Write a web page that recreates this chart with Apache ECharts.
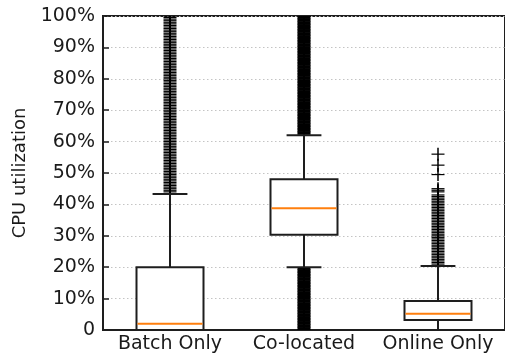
<!DOCTYPE html>
<html><head><meta charset="utf-8">
<script src="https://cdn.jsdelivr.net/npm/echarts@6/dist/echarts.min.js"></script>
<style>html,body{margin:0;padding:0;background:#fff}#c{width:505px;height:357px}</style>
</head><body><div id="c"></div>
<script>
var categories = ['Batch Only', 'Co-located', 'Online Only'];
var yTickLabels = ['0', '10%', '20%', '30%', '40%', '50%', '60%', '70%', '80%', '90%', '100%'];
// [lower whisker, Q1, median, Q3, upper whisker] in %
var batchBox = [0, 0, 2, 20, 43.3];
var colocBox = [20, 30.3, 38.8, 48, 62];
var onlineBox = [0, 3.2, 5.2, 9.2, 20.4];
// outliers (%)
var batchOutliers = [44,44.5,45,45.5,46,46.5,47,47.5,48,48.5,49,49.5,50,50.5,51,51.5,52,52.5,53,53.5,54,54.5,55,55.5,56,56.5,57,57.5,58,58.5,59,59.5,60,60.5,61,61.5,62,62.5,63,63.5,64,64.5,65,65.5,66,66.5,67,67.5,68,68.5,69,69.5,70,70.5,71,71.5,72,72.5,73,73.5,74,74.5,75,75.5,76,76.5,77,77.5,78,78.5,79,79.5,80,80.5,81,81.5,82,82.5,83,83.5,84,84.5,85,85.5,86,86.5,87,87.5,88,88.5,89,89.5,90,90.5,91,91.5,92,92.5,93,93.5,94,94.5,95,95.5,96,96.5,97,97.5,98,98.5,99,99.5,100];
var colocOutliers = [0,0.5,1,1.5,2,2.5,3,3.5,4,4.5,5,5.5,6,6.5,7,7.5,8,8.5,9,9.5,10,10.5,11,11.5,12,12.5,13,13.5,14,14.5,15,15.5,16,16.5,17,17.5,18,18.5,19,19.5,
  62.5,63,63.5,64,64.5,65,65.5,66,66.5,67,67.5,68,68.5,69,69.5,70,70.5,71,71.5,72,72.5,73,73.5,74,74.5,75,75.5,76,76.5,77,77.5,78,78.5,79,79.5,80,80.5,81,81.5,82,82.5,83,83.5,84,84.5,85,85.5,86,86.5,87,87.5,88,88.5,89,89.5,90,90.5,91,91.5,92,92.5,93,93.5,94,94.5,95,95.5,96,96.5,97,97.5,98,98.5,99,99.5,100];
var onlineOutliers = [21,21.5,22,22.5,23,23.5,24,24.5,25,25.5,26,26.5,27,27.5,28,28.5,29,29.5,30,30.5,31,31.5,32,32.5,33,33.5,34,34.5,35,35.5,36,36.5,37,37.5,38,38.5,39,39.5,40,40.5,41,41.5,42,42.5,43,44,44.5,45,49.5,52.5,56];

var boxes = [batchBox, colocBox, onlineBox];
var outlierSets = [batchOutliers, colocOutliers, onlineOutliers];
var boxData = boxes.map(function (b, i) { return [i].concat(b); });
var outlierData = [];
outlierSets.forEach(function (arr, i) { arr.forEach(function (v) { outlierData.push([i, v]); }); });

var ink = '#1e1e1e';
var chart = echarts.init(document.getElementById('c'), null, { renderer: 'canvas' });
chart.setOption({
  animation: false,
  grid: { left: 103, top: 16, width: 405, height: 314, show: true, borderColor: ink, borderWidth: 2, backgroundColor: 'transparent' },
  xAxis: {
    type: 'category', data: categories,
    axisLine: { lineStyle: { color: ink, width: 2 } },
    axisTick: { inside: true, alignWithLabel: true, length: 5, lineStyle: { color: ink, width: 1.5 } },
    axisLabel: { interval: 0, hideOverlap: false, color: '#1a1a1a', fontSize: 19, fontFamily: 'DejaVu Sans', margin: 5 },
    splitLine: { show: false }
  },
  yAxis: {
    type: 'value', min: 0, max: 100, interval: 10,
    name: 'CPU utilization', nameLocation: 'middle', nameGap: 69,
    nameTextStyle: { color: '#1a1a1a', fontSize: 18, fontFamily: 'DejaVu Sans' },
    axisLine: { show: true, lineStyle: { color: ink, width: 2 } },
    axisTick: { show: true, inside: true, length: 6, lineStyle: { color: ink, width: 1.5 } },
    axisLabel: { color: '#1a1a1a', fontSize: 19, fontFamily: 'DejaVu Sans', margin: 8,
      formatter: function (v) { return yTickLabels[Math.round(v / 10)]; } },
    splitLine: { show: true, lineStyle: { color: '#c4c4c4', width: 1, type: [1.5, 2.5] } }
  },
  series: [
    {
      type: 'custom', clip: true, data: outlierData, z: 2,
      renderItem: function (params, api) {
        var c = api.coord([api.value(0), api.value(1)]);
        var h = 6.5;
        var i = api.value(0);
        var lw = i === 1 ? 2.2 : 1.2;
        return { type: 'group', children: [
          { type: 'line', shape: { x1: c[0] - h, y1: c[1], x2: c[0] + h, y2: c[1] }, style: { stroke: '#000', lineWidth: lw } },
          { type: 'line', shape: { x1: c[0], y1: c[1] - h, x2: c[0], y2: c[1] + h }, style: { stroke: '#000', lineWidth: 1.5 } }
        ] };
      }
    },
    {
      type: 'custom', clip: false, data: boxData, z: 3,
      renderItem: function (params, api) {
        var i = api.value(0);
        var band = api.size([1, 0])[0];
        var bw = band * 0.5, cw = band * 0.26;
        var x = api.coord([i, 0])[0];
        var lo = api.coord([i, api.value(1)])[1];
        var q1 = api.coord([i, api.value(2)])[1];
        var md = api.coord([i, api.value(3)])[1];
        var q3 = api.coord([i, api.value(4)])[1];
        var hi = api.coord([i, api.value(5)])[1];
        var s = { stroke: ink, lineWidth: 2 };
        return { type: 'group', children: [
          { type: 'line', shape: { x1: x, y1: q3, x2: x, y2: hi }, style: s },
          { type: 'line', shape: { x1: x, y1: q1, x2: x, y2: lo }, style: s },
          { type: 'line', shape: { x1: x - cw / 2, y1: hi, x2: x + cw / 2, y2: hi }, style: s },
          { type: 'line', shape: { x1: x - cw / 2, y1: lo, x2: x + cw / 2, y2: lo }, style: s },
          { type: 'rect', shape: { x: x - bw / 2, y: q3, width: bw, height: q1 - q3 }, style: { fill: '#fff', stroke: ink, lineWidth: 2 } },
          { type: 'line', shape: { x1: x - bw / 2 + 1, y1: md, x2: x + bw / 2 - 1, y2: md }, style: { stroke: '#ff7f0e', lineWidth: 2 } }
        ] };
      }
    }
  ]
});
</script></body></html>
